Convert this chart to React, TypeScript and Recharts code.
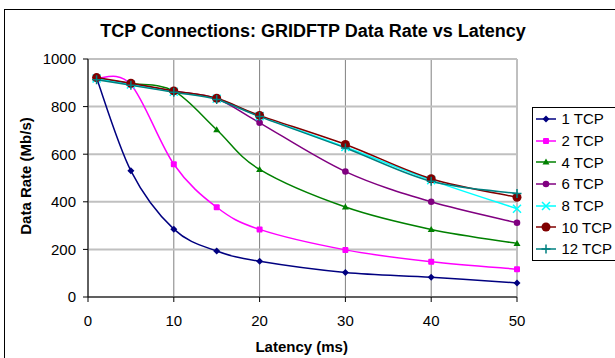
import React from "react";
import { LineChart, Line, XAxis, YAxis, CartesianGrid, Legend } from "recharts";

// latency (ms) at which each measurement was taken
const LATENCY = [1, 5, 10, 15, 20, 30, 40, 50];

// data rate in Mb/s, one array per number of TCP connections
const TCP1 = [920, 530, 285, 193, 150, 103, 83, 59];
const TCP2 = [920, 893, 558, 377, 284, 198, 148, 117];
const TCP4 = [918, 897, 866, 703, 536, 378, 284, 225];
const TCP6 = [918, 895, 865, 833, 732, 527, 400, 312];
const TCP8 = [918, 893, 862, 833, 760, 630, 491, 371];
const TCP10 = [922, 898, 866, 835, 763, 641, 497, 419];
const TCP12 = [913, 890, 860, 830, 758, 626, 486, 435];

const X_TICKS = [0, 10, 20, 30, 40, 50];
const Y_TICKS = [0, 200, 400, 600, 800, 1000];

type Shape = "diamond" | "square" | "triangle" | "circle" | "x" | "bigcircle" | "plus";

const SERIES: { key: string; name: string; color: string; shape: Shape; values: number[] }[] = [
  { key: "tcp1", name: "1 TCP", color: "#000080", shape: "diamond", values: TCP1 },
  { key: "tcp2", name: "2 TCP", color: "#FF00FF", shape: "square", values: TCP2 },
  { key: "tcp4", name: "4 TCP", color: "#008000", shape: "triangle", values: TCP4 },
  { key: "tcp6", name: "6 TCP", color: "#800080", shape: "circle", values: TCP6 },
  { key: "tcp8", name: "8 TCP", color: "#00FFFF", shape: "x", values: TCP8 },
  { key: "tcp10", name: "10 TCP", color: "#800000", shape: "bigcircle", values: TCP10 },
  { key: "tcp12", name: "12 TCP", color: "#008080", shape: "plus", values: TCP12 },
];

const data = LATENCY.map((latency, i) => {
  const row: Record<string, number> = { latency };
  SERIES.forEach((s) => (row[s.key] = s.values[i]));
  return row;
});

const FONT = '"Liberation Sans", Arial, sans-serif';

// smoothed line similar to the spreadsheet's "smoothed line" option
const smoothCurve = (context: any) => {
  let pts: number[][] = [];
  return {
    areaStart() {},
    areaEnd() {},
    lineStart() {
      pts = [];
    },
    point(x: number, y: number) {
      pts.push([+x, +y]);
    },
    lineEnd() {
      const n = pts.length;
      if (!n) return;
      context.moveTo(pts[0][0], pts[0][1]);
      const t = 1 / 6;
      for (let i = 0; i < n - 1; i++) {
        const p0 = pts[i - 1] ?? pts[i];
        const p1 = pts[i];
        const p2 = pts[i + 1];
        const p3 = pts[i + 2] ?? pts[i + 1];
        context.bezierCurveTo(
          p1[0] + (p2[0] - p0[0]) * t,
          p1[1] + (p2[1] - p0[1]) * t,
          p2[0] - (p3[0] - p1[0]) * t,
          p2[1] - (p3[1] - p1[1]) * t,
          p2[0],
          p2[1]
        );
      }
    },
  };
};

function Marker({ shape, color, cx, cy }: { shape: Shape; color: string; cx: number; cy: number }) {
  switch (shape) {
    case "diamond":
      return <path d={`M${cx},${cy - 3.5}L${cx + 3.5},${cy}L${cx},${cy + 3.5}L${cx - 3.5},${cy}Z`} fill={color} />;
    case "square":
      return <rect x={cx - 3} y={cy - 3} width={6} height={6} fill={color} rx={1} />;
    case "triangle":
      return <path d={`M${cx},${cy - 3.5}L${cx + 3.5},${cy + 2.5}L${cx - 3.5},${cy + 2.5}Z`} fill={color} />;
    case "circle":
      return <circle cx={cx} cy={cy} r={3.3} fill={color} />;
    case "x":
      return (
        <path
          d={`M${cx - 4},${cy - 4}L${cx + 4},${cy + 4}M${cx - 4},${cy + 4}L${cx + 4},${cy - 4}`}
          stroke={color}
          strokeWidth={1.5}
        />
      );
    case "bigcircle":
      return <circle cx={cx} cy={cy} r={4.5} fill={color} />;
    case "plus":
      return <path d={`M${cx - 4.5},${cy}L${cx + 4.5},${cy}M${cx},${cy - 4.5}L${cx},${cy + 4.5}`} stroke={color} strokeWidth={1.5} />;
  }
  return null;
}

// legend keeps the series order (recharts sorts the payload by name)
function LegendBox() {
  return (
    <div
      style={{
        width: 110,
        border: "1px solid #000",
        background: "#fff",
        fontFamily: FONT,
        fontSize: 15,
        color: "#000",
      }}
    >
      {SERIES.map((s) => (
        <div key={s.key} style={{ display: "flex", alignItems: "center", height: 21.7 }}>
          <svg width={29} height={20} style={{ display: "block" }}>
            <line x1={3} y1={10} x2={23} y2={10} stroke={s.color} strokeWidth={1.5} />
            <Marker shape={s.shape} color={s.color} cx={13} cy={10} />
          </svg>
          <span style={{ lineHeight: "15px", whiteSpace: "nowrap" }}>{s.name}</span>
        </div>
      ))}
    </div>
  );
}

export default function App() {
  return (
    <>
      <style>{`body{margin:0;overflow:hidden}`}</style>
      <div
        style={{
          position: "absolute",
          left: 4,
          top: 9,
          width: 611,
          height: 349,
          borderLeft: "1px solid #000",
          borderTop: "1px solid #000",
          overflow: "hidden",
          background: "#fff",
          fontFamily: FONT,
        }}
      >
        <div
          style={{
            position: "absolute",
            left: 308,
            top: 21.2,
            transform: "translate(-50%,-50%)",
            fontWeight: "bold",
            fontSize: 18,
            lineHeight: "18px",
            whiteSpace: "nowrap",
            zIndex: 2,
          }}
        >
          TCP Connections: GRIDFTP Data Rate vs Latency
        </div>
        <div
          style={{
            position: "absolute",
            left: 20,
            top: 166,
            transform: "translate(-50%,-50%) rotate(-90deg)",
            fontWeight: "bold",
            fontSize: 15,
            lineHeight: "15px",
            whiteSpace: "nowrap",
            zIndex: 2,
          }}
        >
          Data Rate (Mb/s)
        </div>
        <div
          style={{
            position: "absolute",
            left: 296.7,
            top: 335.5,
            transform: "translate(-50%,-50%)",
            fontWeight: "bold",
            fontSize: 15,
            lineHeight: "15px",
            whiteSpace: "nowrap",
            zIndex: 2,
          }}
        >
          Latency (ms)
        </div>
        <LineChart width={610} height={348} data={data} margin={{ top: 49, right: 98, bottom: 31, left: 0 }}>
          <CartesianGrid horizontal={false} stroke="#808080" strokeWidth={1} />
          <CartesianGrid vertical={false} stroke="#c0c0c0" strokeWidth={2} />
          <XAxis
            dataKey="latency"
            type="number"
            domain={[0, 50]}
            ticks={X_TICKS}
            height={30}
            stroke="#000"
            tickSize={5}
            tickMargin={13}
            tick={{ fontSize: 15, fill: "#000", fontFamily: FONT }}
          />
          <YAxis
            domain={[0, 1000]}
            ticks={Y_TICKS}
            width={83}
            stroke="#000"
            tickSize={5}
            tickMargin={7}
            tick={{ fontSize: 15, fill: "#000", fontFamily: FONT }}
          />
          <Legend
            layout="vertical"
            align="center"
            verticalAlign="middle"
            content={() => <LegendBox />}
            wrapperStyle={{ left: 526.5, top: 97, width: 110, height: "auto" }}
          />
          {SERIES.map((s) => (
            <Line
              key={s.key}
              dataKey={s.key}
              name={s.name}
              type={smoothCurve as any}
              stroke={s.color}
              strokeWidth={1.5}
              isAnimationActive={false}
              dot={(p: any) => (
                <Marker key={`${s.key}-${p.index}`} shape={s.shape} color={s.color} cx={p.cx} cy={p.cy} />
              )}
              activeDot={false}
            />
          ))}
        </LineChart>
      </div>
    </>
  );
}
